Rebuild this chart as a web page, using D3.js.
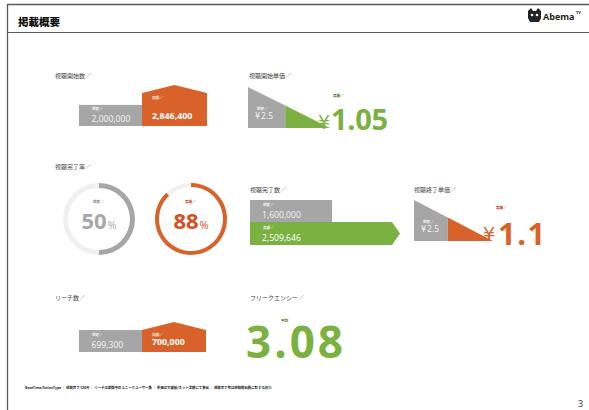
<!DOCTYPE html>
<html>
<head>
<meta charset="utf-8">
<script src="https://cdn.jsdelivr.net/npm/d3@7/dist/d3.min.js"></script>
<style>
  html, body { margin: 0; padding: 0; background: #fff; }
  svg { display: block; }
  text { font-family: "Noto Sans CJK JP", "Noto Sans", sans-serif; }
  .num { font-family: "Open Sans", "Noto Sans", sans-serif; }
  .yen { font-family: "DejaVu Sans", "Noto Sans CJK JP", sans-serif; }
</style>
</head>
<body>
<svg id="page" width="589" height="410"></svg>
<script>
// ---- values ----
const pageTitle = "掲載概要";
const metricLabels = ["視聴開始数／", "視聴開始単価／", "視聴完了率／", "視聴完了数／", "視聴終了単価／", "リーチ数／", "フリークエンシー／"];
const seriesTags = ["想定／", "実績／"];
const startViewValues = [2000000, 2846400];      // plan, actual
const startCostValues = [2.5, 1.05];             // plan, actual (yen)
const completionRates = [50, 88];                // plan, actual (%)
const completedViewValues = [1600000, 2509646];  // plan, actual
const completeCostValues = [2.5, 1.1];           // plan, actual (yen)
const reachValues = [699300, 700000];            // plan, actual
const frequencyValues = [3.08];                  // average
const frequencyTag = "平均";
const footnote = "BaseTime/ActionType ｜ 視聴完了/CM尺 ｜ リーチは期間中のユニークユーザー数 ｜ 単価は実績値/ネット金額にて算出 ｜ 視聴完了率は視聴開始数に対する割合";
const pageNumber = "3";

const ORANGE = "#d9622b", GRAY = "#a6a6a6", GREEN = "#7ab140", TRACK = "#f0f0f0";
const fmt = d3.format(",");
const svg = d3.select("#page");

// ---- page frame ----
svg.append("line").attr("x1", 7).attr("x2", 589).attr("y1", 4.5).attr("y2", 4.5).attr("stroke", "#5a5a5a").attr("stroke-width", 1.3);
svg.append("line").attr("x1", 7.5).attr("x2", 7.5).attr("y1", 4).attr("y2", 410).attr("stroke", "#5a5a5a").attr("stroke-width", 1.3);
svg.append("line").attr("x1", 7).attr("x2", 589).attr("y1", 32.5).attr("y2", 32.5).attr("stroke", "#5a5a5a").attr("stroke-width", 1);
svg.append("text").attr("x", 18).attr("y", 26).attr("font-size", 10.5).attr("font-weight", 900).attr("fill", "#111").text(pageTitle);

// logo
const logo = svg.append("g").attr("transform", "translate(527,8)");
logo.append("path").attr("d", "M1,3 L4,0 L6,3 L9,3 L11,0 L14,3 L14,10 L12,14 L3,14 L1,10 Z").attr("fill", "#222");
logo.append("circle").attr("cx", 5).attr("cy", 7).attr("r", 1.3).attr("fill", "#fff");
logo.append("circle").attr("cx", 10).attr("cy", 7).attr("r", 1.3).attr("fill", "#fff");
logo.append("text").attr("class", "num").attr("x", 16).attr("y", 12).attr("font-size", 9).attr("font-weight", 700).attr("fill", "#222").text("Abema");
logo.append("text").attr("class", "num").attr("x", 49).attr("y", 6).attr("font-size", 4).attr("font-weight", 700).attr("fill", "#222").text("TV");

function metricLabel(x, y, t) {
  svg.append("text").attr("x", x).attr("y", y).attr("font-size", 6).attr("fill", "#444").text(t);
}
function tag(x, y, t, color) {
  svg.append("text").attr("x", x).attr("y", y).attr("font-size", 3.6).attr("font-weight", 700).attr("fill", color).text(t);
}

// ---- plan bar + actual "house" block ----
function houseBlock(opts) {
  const { x0, xm, x1, base, values, domain0, maxH, roof } = opts;
  const h = d3.scaleLinear().domain([domain0, d3.max(values)]).range([0, maxH]);
  const g = svg.append("g");
  g.append("rect").attr("x", x0).attr("y", base - h(values[0])).attr("width", xm - x0).attr("height", h(values[0])).attr("fill", GRAY);
  const top = base - h(values[1]);
  g.append("path")
    .attr("d", d3.line()([[xm, base], [xm, top], [(xm + x1) / 2, top - roof], [x1, top], [x1, base]]) + "Z")
    .attr("fill", ORANGE);
  tag(x0 + 13, base - h(values[0]) + 5.5, seriesTags[0], "#f2f2f2");
  g.append("text").attr("class", "num").attr("x", x0 + 12.5).attr("y", base - 4).attr("font-size", 8.6).attr("fill", "#f4f4f4").text(fmt(values[0]));
  tag(xm + 10, top + 6, seriesTags[1], "#fbe5da");
  g.append("text").attr("class", "num").attr("x", xm + 10).attr("y", base - 7).attr("font-size", 8.8).attr("font-weight", 700).attr("fill", "#fff").text(fmt(values[1]));
}

metricLabel(55, 78, metricLabels[0]);
houseBlock({ x0: 79, xm: 142, x1: 207, base: 126, values: startViewValues, domain0: 500000, maxH: 33, roof: 8 });

metricLabel(55, 300, metricLabels[5]);
houseBlock({ x0: 79, xm: 142, x1: 206, base: 352, values: reachValues, domain0: 0, maxH: 22, roof: 8 });

// ---- unit cost wedge ----
function costWedge(opts) {
  const { x0, top, base, width, values, color, labelY } = opts;
  // actual cost share of the wedge length, measured from its tip
  const share = d3.scaleLinear().domain([0, values[0]]).range([0, width * 1.3]);
  const tipX = x0 + width;
  const splitX = tipX - share(values[1]);
  const yAt = x => top + (base - top) * (x - x0) / width;
  svg.append("path").attr("d", d3.line()([[x0, top], [splitX, yAt(splitX)], [splitX, base], [x0, base]]) + "Z").attr("fill", GRAY);
  svg.append("path").attr("d", d3.line()([[splitX, yAt(splitX)], [tipX, base], [splitX, base]]) + "Z").attr("fill", color);
  tag(x0 + 9, labelY - 9, seriesTags[0], "#f2f2f2");
  const t = svg.append("text").attr("class", "num").attr("x", x0 + 7).attr("y", labelY).attr("font-size", 8.5).attr("fill", "#f4f4f4");
  t.append("tspan").attr("class", "yen").attr("font-size", 8).text("¥");
  t.append("tspan").attr("dx", 1).text(values[0]);
}

metricLabel(249, 78, metricLabels[1]);
costWedge({ x0: 248, top: 87, base: 128, width: 82, values: startCostValues, color: GREEN, labelY: 119 });
tag(333, 97, seriesTags[1], "#4d7a2a");
svg.append("text").attr("class", "yen").attr("x", 318).attr("y", 129).attr("font-size", 19).attr("fill", GREEN).text("¥");
svg.append("text").attr("class", "num").attr("x", 331).attr("y", 130).attr("font-size", 29).attr("font-weight", 700).attr("fill", GREEN).attr("letter-spacing", -0.3).text(startCostValues[1]);

metricLabel(414, 192, metricLabels[4]);
costWedge({ x0: 414, top: 200, base: 241, width: 79, values: completeCostValues, color: ORANGE, labelY: 232 });
tag(496, 209, seriesTags[1], "#b8441a");
svg.append("text").attr("class", "yen").attr("x", 483).attr("y", 241).attr("font-size", 19).attr("fill", ORANGE).text("¥");
svg.append("text").attr("class", "num").attr("x", 498).attr("y", 245).attr("font-size", 31).attr("font-weight", 700).attr("fill", ORANGE).attr("letter-spacing", 1.5).text(completeCostValues[1]);

// ---- completion rate rings ----
metricLabel(55, 169, metricLabels[2]);
const ringAngle = d3.scaleLinear().domain([0, 100]).range([0, 2 * Math.PI]);
const ringColors = [GRAY, ORANGE], ringText = ["#a8a8a8", "#d4501f"], ringTag = ["#888", "#c9481c"];
const ringCx = [99, 191], ringCy = 219;
completionRates.forEach((v, i) => {
  const g = svg.append("g").attr("transform", `translate(${ringCx[i]},${ringCy})`);
  const arc = d3.arc().innerRadius(i ? 32 : 31).outerRadius(36);
  g.append("path").attr("d", arc({ startAngle: 0, endAngle: 2 * Math.PI })).attr("fill", TRACK);
  g.append("path").attr("d", arc({ startAngle: 0, endAngle: ringAngle(v) })).attr("fill", ringColors[i]);
  g.append("text").attr("x", -6).attr("y", -16).attr("font-size", 3.6).attr("font-weight", 700).attr("fill", ringTag[i]).text(seriesTags[i]);
  const t = g.append("text").attr("class", "num").attr("y", 10).attr("text-anchor", "middle").attr("fill", ringText[i]).attr("font-weight", 700);
  t.append("tspan").attr("font-size", 22).text(v);
  t.append("tspan").attr("font-size", 11).attr("font-weight", 400).attr("dx", 1).text("%");
});

// ---- completed views bars ----
metricLabel(250, 192, metricLabels[3]);
const cvx = d3.scaleLinear().domain([500000, d3.max(completedViewValues)]).range([0, 150]);
svg.append("rect").attr("x", 250).attr("y", 200).attr("width", cvx(completedViewValues[0])).attr("height", 22).attr("fill", GRAY);
const arrowEnd = 250 + cvx(completedViewValues[1]);
svg.append("path").attr("d", d3.line()([[250, 222], [arrowEnd - 8, 222], [arrowEnd, 233.5], [arrowEnd - 8, 245], [250, 245]]) + "Z").attr("fill", GREEN);
tag(263, 206, seriesTags[0], "#f2f2f2");
svg.append("text").attr("class", "num").attr("x", 262).attr("y", 218).attr("font-size", 8.6).attr("fill", "#f4f4f4").text(fmt(completedViewValues[0]));
tag(263, 229, seriesTags[1], "#f2f2f2");
svg.append("text").attr("class", "num").attr("x", 262).attr("y", 241).attr("font-size", 8.6).attr("fill", "#fff").text(fmt(completedViewValues[1]));

// ---- frequency ----
metricLabel(250, 300, metricLabels[6]);
tag(281, 322, frequencyTag, "#4d7a2a");
svg.append("text").attr("class", "num").attr("x", 246).attr("y", 358).attr("font-size", 44).attr("font-weight", 700).attr("fill", GREEN).attr("letter-spacing", 3).text(frequencyValues[0].toFixed(2));

// ---- footer ----
svg.append("text").attr("x", 25).attr("y", 389).attr("font-size", 3.4).attr("font-weight", 700).attr("fill", "#222").text(footnote);
svg.append("text").attr("class", "num").attr("x", 578).attr("y", 407).attr("font-size", 9).attr("fill", "#333").text(pageNumber);
</script>
</body>
</html>
